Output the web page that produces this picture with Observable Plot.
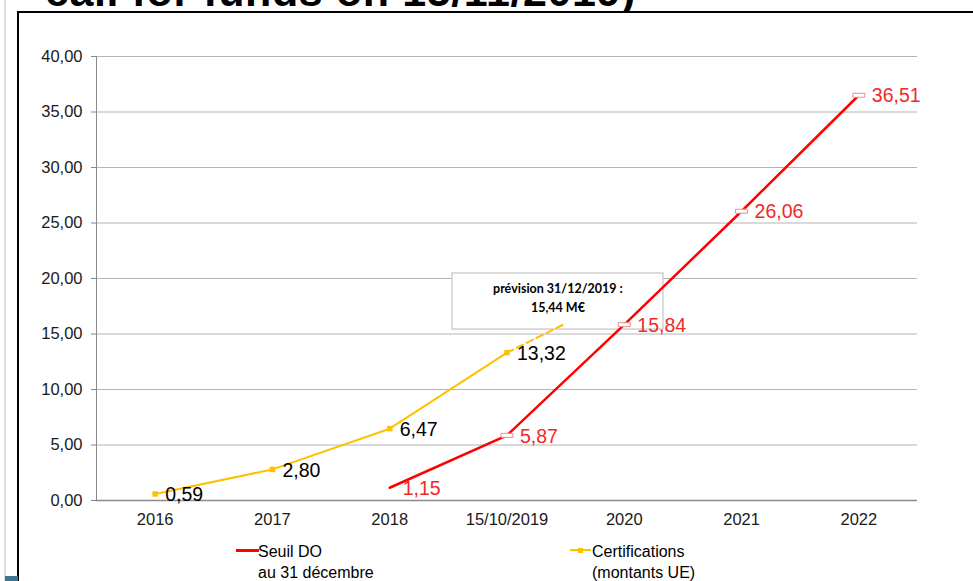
<!DOCTYPE html>
<html>
<head>
<meta charset="utf-8">
<script src="https://cdn.jsdelivr.net/npm/d3@7"></script>
<script src="https://cdn.jsdelivr.net/npm/@observablehq/plot@0.6"></script>
<style>
  body { margin: 0; background: #fff; font-family: Arial, "Liberation Sans", sans-serif; }
  #wrap { position: relative; width: 973px; height: 581px; overflow: hidden; background: #fff; }
  #chart { position: absolute; left: 0; top: 0; }
  .edge { position: absolute; left: 4px; top: 0; width: 2px; height: 581px; background: #dedede; }
  .frameV { position: absolute; left: 17px; top: 11px; width: 2px; height: 600px; background: #000; }
  .frameH { position: absolute; left: 17px; top: 11px; width: 980px; height: 2px; background: #000; }
  .titlesvg { position: absolute; left: 0; top: 0; overflow: hidden; }
  .teal { position: absolute; left: 5px; top: 576px; width: 13px; height: 5px; background: #3d7590; }
  .legtxt { position: absolute; font: 16px/21px Arial, "Liberation Sans", sans-serif; color: #000; white-space: nowrap; }
  .sw { position: absolute; height: 2.5px; }
  .sq { position: absolute; width: 5px; height: 5px; background: #FFC000; }
  svg [aria-label="y-axis tick"] { stroke: #888; }
</style>
</head>
<body>
<div id="wrap">
  <div id="chart"></div>
  <div class="edge"></div>
  <div class="frameV"></div>
  <div class="frameH"></div>
  <svg class="titlesvg" width="973" height="12"><text x="45" y="5.5" font-family="Arial, 'Liberation Sans', sans-serif" font-weight="bold" font-size="43" letter-spacing="0.6" fill="#000">call for funds on 15/11/2019)</text></svg>
  <div class="sw" style="left:236px;top:549px;width:23px;background:#FF0000"></div>
  <div class="legtxt" style="left:258px;top:541px">Seuil DO<br>au 31 décembre</div>
  <div class="sw" style="left:570px;top:549px;width:21px;height:2px;background:#FFC000"></div>
  <div class="sq" style="left:578px;top:547.5px"></div>
  <div class="legtxt" style="left:592px;top:541px">Certifications<br>(montants UE)</div>
  <div class="teal"></div>
</div>
<script>
const categories = ["2016", "2017", "2018", "15/10/2019", "2020", "2021", "2022"];
const certIndex = [0, 1, 2, 3];
const certValues = [0.59, 2.80, 6.47, 13.32];
const forecastIndex = [3, 3.49];
const forecastValues = [13.32, 15.9];
const seuilIndex = [2, 3, 4, 5, 6];
const seuilValues = [1.15, 5.87, 15.84, 26.06, 36.51];
const seuilMarked = [false, true, true, true, true];
const yTicks = [0, 5, 10, 15, 20, 25, 30, 35, 40];
const noteLines = ["prévision 31/12/2019 :", "15,44 M€"];

const fmt = v => v.toFixed(2).replace(".", ",");
const cert = certIndex.map((x, i) => ({x, y: certValues[i]}));
const forecast = forecastIndex.map((x, i) => ({x, y: forecastValues[i]}));
const seuil = seuilIndex.map((x, i) => ({x, y: seuilValues[i], marked: seuilMarked[i]}));
const note = [{x1: 2.535, x2: 4.334, y1: 15.4, y2: 20.45}];
const noteText = noteLines.map((t, i) => ({t, x: 3.434, y: [19.05, 17.35][i]}));

const flatRect = { draw(ctx) { ctx.rect(-6, -2, 12, 4); } };

const chart = Plot.plot({
  width: 973,
  height: 540,
  marginLeft: 96,
  marginRight: 56,
  marginTop: 56,
  marginBottom: 40,
  style: { background: "transparent", fontFamily: "Arial, 'Liberation Sans', sans-serif", fontSize: "16.5px", color: "#1a1a1a" },
  x: { domain: [-0.5, 6.5], ticks: [0, 1, 2, 3, 4, 5, 6], tickFormat: i => categories[i], tickSize: 0, tickPadding: 13, label: null },
  y: { domain: [0, 40], ticks: yTicks, tickFormat: fmt, tickSize: 5, tickPadding: 9, label: null },
  marks: [
    Plot.gridY(yTicks, { stroke: "#b4b4b4", strokeOpacity: 1 }),
    Plot.ruleX([-0.5], { y1: 0, y2: 40, stroke: "#8a8a8a" }),
    Plot.ruleY([0], { stroke: "#8a8a8a", strokeWidth: 1.5 }),
    Plot.rect(note, { x1: "x1", x2: "x2", y1: "y1", y2: "y2", fill: "white", stroke: "#c4c4c4", strokeWidth: 1.2 }),
    Plot.line(cert, { x: "x", y: "y", stroke: "#FFC000", strokeWidth: 2 }),
    Plot.line(forecast, { x: "x", y: "y", stroke: "#FFC000", strokeWidth: 2, strokeDasharray: "7,4" }),
    Plot.line(seuil, { x: "x", y: "y", stroke: "#FF0000", strokeWidth: 2.5 }),
    Plot.dot(seuil.filter(d => d.marked), { x: "x", y: "y", symbol: flatRect, fill: "white", stroke: "#f08a8a", strokeWidth: 1 }),
    Plot.dot(cert, { x: "x", y: "y", symbol: "square", r: 3.1, fill: "#FFC000" }),
    Plot.text(cert, { x: "x", y: "y", text: d => fmt(d.y), textAnchor: "start", dx: 10, dy: 1, fontSize: 19.5, fill: "#000" }),
    Plot.text(seuil, { x: "x", y: "y", text: d => fmt(d.y), textAnchor: "start", dx: 13, dy: 1, fontSize: 19.5, fill: "#f02828" }),
    Plot.text(noteText, { x: "x", y: "y", text: "t", fontSize: 12.5, fontWeight: "bold", fontFamily: "Lato, 'Open Sans', sans-serif", fill: "#000" })
  ]
});
document.getElementById("chart").appendChild(chart);
</script>
</body>
</html>
